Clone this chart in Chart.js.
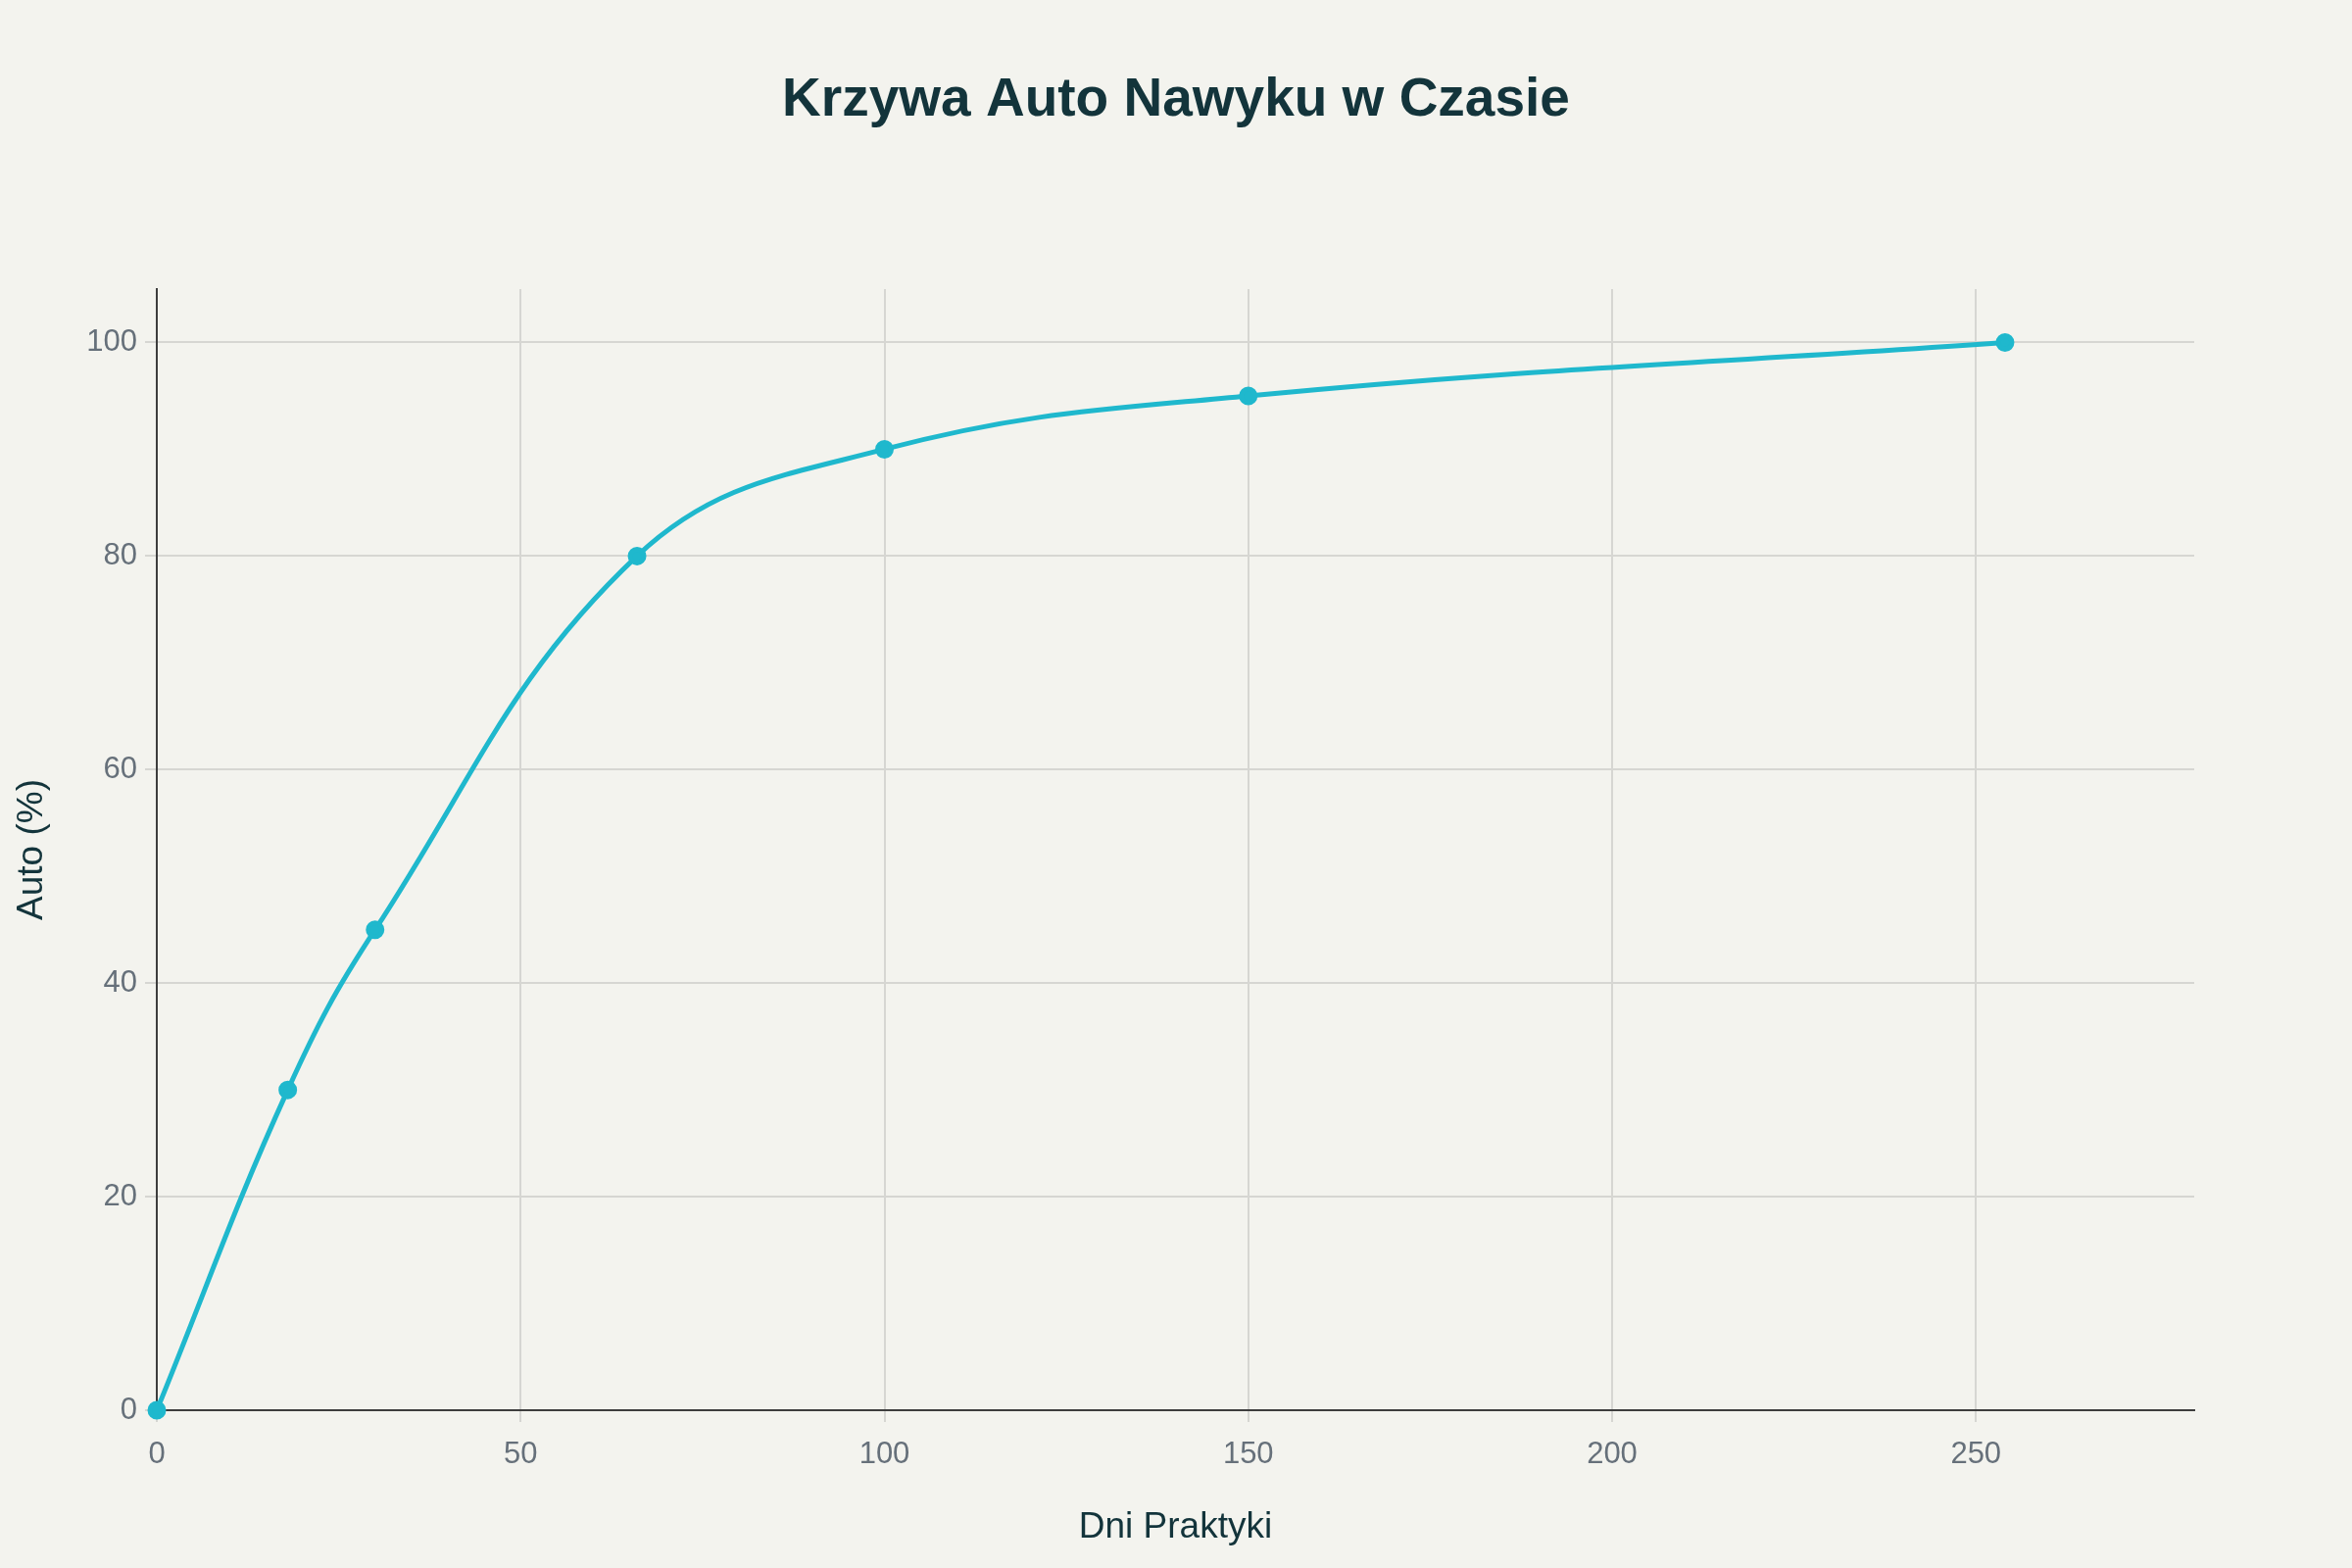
<!DOCTYPE html>
<html>
<head>
<meta charset="utf-8">
<script src="https://cdn.jsdelivr.net/npm/chart.js@4.4.1/dist/chart.umd.min.js"></script>
<style>
  html, body { margin: 0; padding: 0; background: #F3F3EE; }
  #wrap { width: 2400px; height: 1600px; }
</style>
</head>
<body>
<div id="wrap"><canvas id="habitChart" width="2400" height="1600"></canvas></div>
<script>
const days = [0, 18, 30, 66, 100, 150, 254];
const automaticity = [0, 30, 45, 80, 90, 95, 100];
const xTicks = [0, 50, 100, 150, 200, 250];
const yTicks = [0, 20, 40, 60, 80, 100];

const FONT = "'Liberation Sans', Arial, sans-serif";
const points = days.map((d, i) => ({ x: d, y: automaticity[i] }));

// background fill for the whole canvas
const bgPlugin = {
  id: 'bg',
  beforeDraw(chart) {
    const ctx = chart.ctx;
    ctx.save();
    ctx.fillStyle = '#F3F3EE';
    ctx.fillRect(0, 0, chart.width, chart.height);
    ctx.restore();
  }
};

new Chart(document.getElementById('habitChart'), {
  type: 'scatter',
  data: {
    datasets: [{
      data: points,
      showLine: true,
      borderColor: '#1FB8CD',
      backgroundColor: '#1FB8CD',
      borderWidth: 5,
      pointRadius: 7,
      pointHoverRadius: 7,
      tension: 0.4,
      clip: false
    }]
  },
  options: {
    responsive: false,
    devicePixelRatio: 1,
    animation: false,
    layout: { padding: 0 },
    plugins: {
      legend: { display: false },
      tooltip: { enabled: false },
      title: {
        display: true,
        text: 'Krzywa Auto Nawyku w Czasie',
        color: '#13343B',
        font: { family: FONT, size: 55, weight: 'bold', lineHeight: 1.2 },
        padding: { top: 70, bottom: 159 }
      }
    },
    scales: {
      x: {
        type: 'linear',
        min: 0,
        max: 280,
        afterFit(scale) { scale.height = 161; },
        afterBuildTicks(scale) { scale.ticks = xTicks.map(v => ({ value: v })); },
        grid: { color: '#D6D6D2', lineWidth: 2, tickLength: 12, drawTicks: true },
        border: { color: '#3D3D3D', width: 2 },
        ticks: { color: '#66707A', font: { family: FONT, size: 31 }, padding: 15 },
        title: {
          display: true,
          text: 'Dni Praktyki',
          color: '#13343B',
          font: { family: FONT, size: 37 },
          padding: { top: 0, bottom: 19 }
        }
      },
      y: {
        type: 'linear',
        min: 0,
        max: 105,
        afterFit(scale) { scale.width = 160; },
        afterBuildTicks(scale) { scale.ticks = yTicks.map(v => ({ value: v })); },
        grid: { color: '#D6D6D2', lineWidth: 2, tickLength: 12 },
        border: { color: '#3D3D3D', width: 2 },
        ticks: { color: '#66707A', font: { family: FONT, size: 31 }, padding: 8 },
        title: {
          display: true,
          text: 'Auto (%)',
          color: '#13343B',
          font: { family: FONT, size: 37 },
          padding: { top: 11, bottom: 0 }
        }
      },
      // empty right-hand axis that only reserves the right margin
      yRight: {
        type: 'linear',
        position: 'right',
        min: 0,
        max: 105,
        afterFit(scale) { scale.width = 161; },
        grid: { display: false },
        border: { display: false },
        ticks: { display: false }
      }
    }
  },
  plugins: [bgPlugin]
});
</script>
</body>
</html>
